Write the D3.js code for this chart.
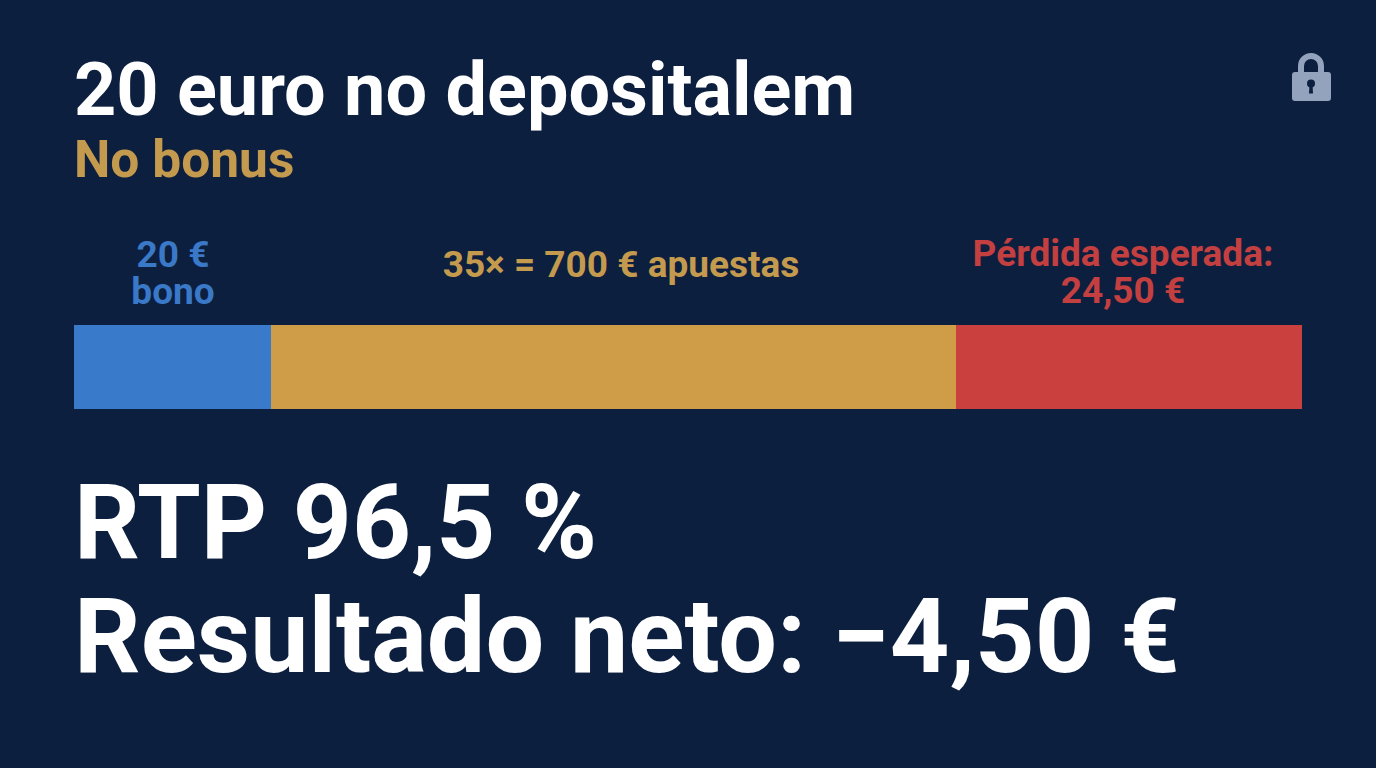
<!DOCTYPE html>
<html>
<head>
<meta charset="utf-8">
<script src="https://cdn.jsdelivr.net/npm/d3@7"></script>
<style>
html, body { margin: 0; padding: 0; background: #0d1f3f; }
text { font-family: Roboto, sans-serif; }
</style>
</head>
<body>
<svg id="chart" width="1376" height="768"></svg>
<script>
// segment widths in "share of the bar" units
var segments = ["bono", "apuestas", "perdida"];
var segmentValues = [197, 685, 346];
var segmentColors = ["#3a7aca", "#cf9d47", "#c9403e"];

var segmentLabels = [
	["20 €", "bono"],
	["35× = 700 € apuestas"],
	["Pérdida esperada:", "24,50 €"]
];
var labelColors = ["#3a78c8", "#c49a4e", "#c43f40"];

var svg = d3.select("#chart");
var W = 1376, H = 768;

svg.append("rect").attr("width", W).attr("height", H).attr("fill", "#0d1f3f");

// stack the segments
var stacked = [];
var total = 0;
segmentValues.forEach(function(v, i) {
	stacked.push({ name: segments[i], start: total, end: total + v, i: i });
	total += v;
});

var x = d3.scaleLinear().domain([0, total]).range([74, 1302]);

svg.selectAll("rect.seg")
	.data(stacked)
	.enter().append("rect")
	.attr("class", "seg")
	.attr("x", function(d) { return x(d.start); })
	.attr("y", 325)
	.attr("width", function(d) { return x(d.end) - x(d.start); })
	.attr("height", 84)
	.attr("fill", function(d) { return segmentColors[d.i]; });

// labels above the bar, one text per segment with a tspan per line
var labelY = [267, 277, 266];
var labelX = [173, 621, 1123];
stacked.forEach(function(d) {
	var t = svg.append("text")
		.attr("text-anchor", "middle")
		.attr("font-size", 37)
		.attr("font-weight", 700)
		.attr("fill", labelColors[d.i]);
	segmentLabels[d.i].forEach(function(line, j) {
		t.append("tspan")
			.attr("x", labelX[d.i])
			.attr("y", labelY[d.i] + j * 37)
			.text(line);
	});
});

// title block
svg.append("text").attr("x", 74).attr("y", 115).attr("font-size", 73.8).attr("font-weight", 700).attr("fill", "#fff").text("20 euro no depositalem");
svg.append("text").attr("x", 74).attr("y", 177).attr("font-size", 51.5).attr("font-weight", 700).attr("fill", "#c49a4e").text("No bonus");

// big numbers
svg.append("text").attr("x", 74).attr("y", 558).attr("font-size", 103).attr("font-weight", 700).attr("fill", "#fff").text("RTP 96,5 %");
svg.append("text").attr("x", 74).attr("y", 672).attr("font-size", 104).attr("font-weight", 700).attr("fill", "#fff").text("Resultado neto: −4,50 €");

// lock icon
var lockColor = "#93a3bd";
var lock = svg.append("g");
lock.append("path")
	.attr("d", d3.arc()({ innerRadius: 7, outerRadius: 13, startAngle: -Math.PI / 2, endAngle: Math.PI / 2 }))
	.attr("transform", "translate(1311,66)")
	.attr("fill", lockColor);
lock.append("rect").attr("x", 1298).attr("y", 66).attr("width", 6).attr("height", 8).attr("fill", lockColor);
lock.append("rect").attr("x", 1318).attr("y", 66).attr("width", 6).attr("height", 8).attr("fill", lockColor);
lock.append("rect").attr("x", 1292).attr("y", 72).attr("width", 39).attr("height", 29).attr("rx", 3).attr("fill", lockColor);
lock.append("circle").attr("cx", 1311).attr("cy", 83.5).attr("r", 4).attr("fill", "#0d1f3f");
lock.append("path").attr("d", "M1309.5 85L1312.5 85L1313 93.5L1309 93.5Z").attr("fill", "#0d1f3f");
</script>
</body>
</html>
